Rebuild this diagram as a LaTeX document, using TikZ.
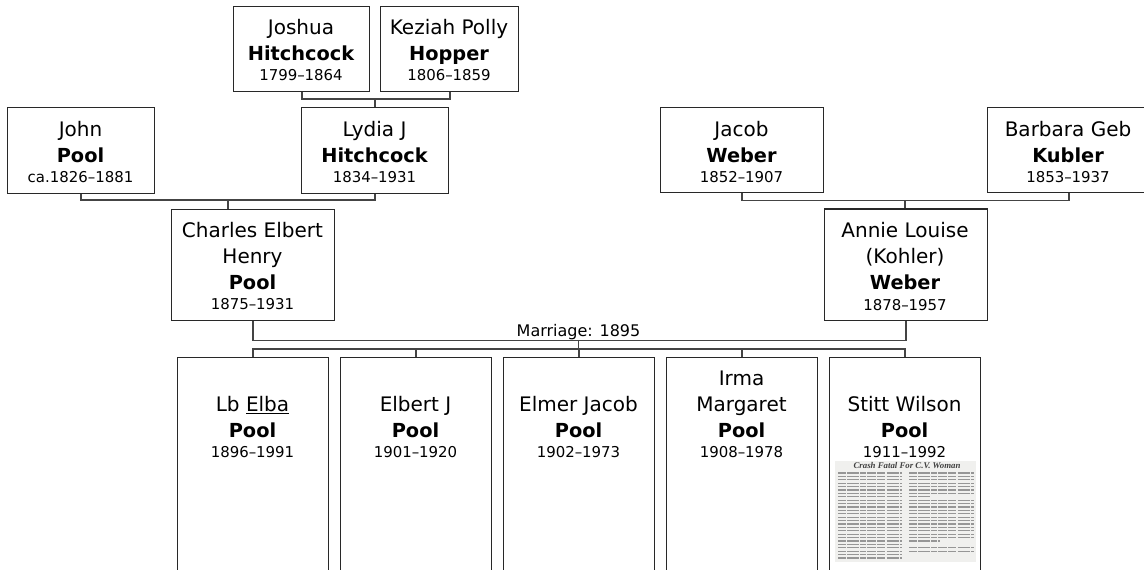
\documentclass[tikz,border=0pt]{standalone}
\usepackage{fontspec}
\setmainfont{DejaVu Sans}
\newfontfamily\serifnews{Liberation Serif}
\usetikzlibrary{calc}
\definecolor{linec}{RGB}{68,68,68}
\definecolor{boxc}{RGB}{40,40,40}
\definecolor{newsbg}{RGB}{240,240,238}
\definecolor{newsink}{RGB}{150,150,150}
\newcommand\pbx[5]{\node[pbox, anchor=north west, minimum width=#4*0.75pt, minimum height=#5*0.75pt] (#1) at (#2,#3) {};}
% three-line label: first name, bold surname, dates
\newcommand\threel[6]{%
  \node[nm] (#1a) at (#2,#3) {#4};
  \node[bn] (#1b) at (#2,#3+25.5) {#5};
  \node[dt] (#1c) at (#2,#3+46) {#6};}
% four-line label
\newcommand\fourl[7]{%
  \node[nm] (#1a) at (#2,#3) {#4};
  \node[nm] (#1b) at (#2,#3+26) {#5};
  \node[bn] (#1c) at (#2,#3+52) {#6};
  \node[dt] (#1d) at (#2,#3+72.5) {#7};}
\begin{document}
\begin{tikzpicture}[x=0.75pt,y=-0.75pt,
  pbox/.style={draw=boxc, line width=1.1pt, fill=white, inner sep=0pt, rectangle},
  conn/.style={draw=linec, line width=1.4pt},
  nm/.style={font=\fontsize{15}{17}\selectfont, inner sep=0pt, anchor=base, text=black},
  bn/.style={font=\fontsize{14.5}{17}\selectfont\bfseries, inner sep=0pt, anchor=base, text=black},
  dt/.style={font=\fontsize{11.2}{13}\selectfont, inner sep=0pt, anchor=base, text=black},
  mlab/.style={font=\fontsize{12}{14}\selectfont, inner sep=0pt, anchor=base, text=black},
  newsline/.style={draw=newsink, line width=0.95pt, dash pattern=on 6pt off 0.9pt on 9pt off 0.9pt on 4pt off 0.9pt on 7pt off 0.9pt}]
\useasboundingbox (0,0) rectangle (1144,570);
\clip (0,0) rectangle (1144,570);
\fill[white] (0,0) rectangle (1144,570);

% ---------- boxes ----------
\pbx{joshua}{233}{6}{136}{85}
\pbx{keziah}{380}{6}{138}{85}
\pbx{john}{7}{107}{147}{86}
\pbx{lydia}{301}{107}{147}{86}
\pbx{jacob}{660}{107}{163}{85}
\pbx{barbara}{986.5}{107}{163}{85}
\pbx{charles}{171}{209}{163}{111}
\pbx{annie}{823.5}{208.5}{163}{111.5}
\pbx{kidA}{177}{357}{151}{260}
\pbx{kidB}{340}{357}{151}{260}
\pbx{kidC}{503}{357}{151}{260}
\pbx{kidD}{666}{357}{151}{260}
\pbx{kidE}{829}{357}{151}{260}

% ---------- connectors ----------
\coordinate (jkm) at (375,99);
\draw[conn] (joshua.south) |- (jkm) -| (keziah.south);
\draw[conn] (jkm) -- (jkm |- lydia.north);

\coordinate (jlm) at (228,200);
\draw[conn] (john.south) |- (jlm) -| (lydia.south);
\draw[conn] (jlm) -- (jlm |- charles.north);

\coordinate (jbm) at (905,200.5);
\draw[conn] (jacob.south) |- (jbm) -| (barbara.south);
\draw[conn] (jbm) -- (jbm |- annie.north);

\coordinate (mar) at (578.5,340.5);
\draw[conn] (charles.south) |- (mar) -| (annie.south);
\coordinate (kid) at (578.5,349);
\draw[conn] (mar) -- (kid);
\draw[conn] (kidA.north) |- (kid) -| (kidE.north);
\draw[conn] (kidB.north) -- (kidB.north |- kid);
\draw[conn] (kidC.north) -- (kidC.north |- kid);
\draw[conn] (kidD.north) -- (kidD.north |- kid);
\node[mlab] (marlab) at (578.5,336.5) {Marriage: 1895};

% ---------- labels ----------
\threel{joshuaT}{301}{35}{Joshua}{Hitchcock}{1799–1864}
\threel{keziahT}{449}{35}{Keziah Polly}{Hopper}{1806–1859}
\threel{johnT}{80.5}{137}{John}{Pool}{ca.1826–1881}
\threel{lydiaT}{374.5}{137}{Lydia J}{Hitchcock}{1834–1931}
\threel{jacobT}{741.5}{137}{Jacob}{Weber}{1852–1907}
\threel{barbaraT}{1068}{137}{Barbara Geb}{Kubler}{1853–1937}
\fourl{charlesT}{252.5}{237}{Charles Elbert}{Henry}{Pool}{1875–1931}
\fourl{annieT}{905}{237.5}{Annie Louise}{(Kohler)}{Weber}{1878–1957}
\threel{kidAT}{252.5}{411.5}{Lb \underline{Elba}}{Pool}{1896–1991}
\threel{kidBT}{415.5}{411.5}{Elbert J}{Pool}{1901–1920}
\threel{kidCT}{578.5}{411.5}{Elmer Jacob}{Pool}{1902–1973}
\fourl{kidDT}{741.5}{385}{Irma}{Margaret}{Pool}{1908–1978}
\threel{kidET}{904.5}{411.5}{Stitt Wilson}{Pool}{1911–1992}

% ---------- newspaper clipping ----------
\fill[newsbg] (835,461) rectangle (976,562);
\node[inner sep=0pt, text=black!75] (headline) at (907,466)
  {\serifnews\bfseries\itshape\fontsize{6.6}{7}\selectfont Crash Fatal For C.V. Woman};
\foreach \i in {0,...,25}{
  \draw[newsline] (838,{473+\i*3.4}) -- (902,{473+\i*3.4});
}
\foreach \i in {0,...,6}{
  \draw[newsline] (909,{473+\i*3.4}) -- (974,{473+\i*3.4});
}
\draw[newsline] (909,{473+7*3.4}) -- (930,{473+7*3.4});
\foreach \i in {8,...,19}{
  \draw[newsline] (909,{473+\i*3.4}) -- (974,{473+\i*3.4});
}
\draw[newsline] (909,{473+20*3.4}) -- (940,{473+20*3.4});
\foreach \i in {22,...,23}{
  \draw[newsline] (909,{473+\i*3.4}) -- (974,{473+\i*3.4});
}
\end{tikzpicture}
\end{document}
